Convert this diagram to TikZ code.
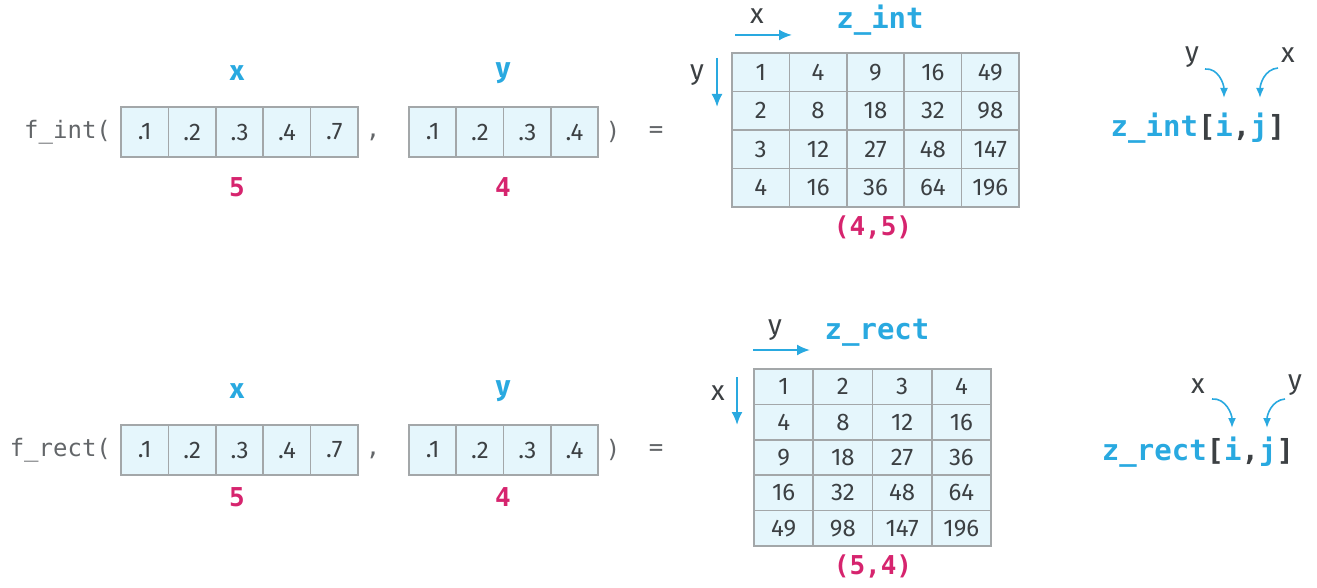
\documentclass[tikz,border=0pt]{standalone}
\usepackage{fontspec}
\setmainfont{Fira Sans}
\setmonofont{DejaVu Sans Mono}
\usetikzlibrary{arrows.meta}

\definecolor{zblue}{HTML}{29A9E0}
\definecolor{zred}{HTML}{D6246E}
\definecolor{zcell}{HTML}{E5F6FC}
\definecolor{zline}{HTML}{A3A7A9}
\definecolor{ztext}{HTML}{3C4043}

\tikzset{
  cell/.style={draw=zline,line width=0.8pt,fill=zcell,inner sep=0pt,
    text=ztext,font=\fontsize{12}{14}\selectfont},
  arrcell/.style={cell,minimum width=23.7pt,minimum height=25pt},
  intcell/.style={cell,minimum width=28.7pt,minimum height=19.25pt},
  rectcell/.style={cell,minimum width=29.6pt,minimum height=17.7pt},
  fcall/.style={text=ztext!80,font=\ttfamily\fontsize{12}{14}\selectfont},
  varname/.style={text=zblue,font=\bfseries\fontsize{14}{16}\selectfont},
  dimlabel/.style={text=zred,font=\ttfamily\bfseries\fontsize{13}{15}\selectfont},
  zname/.style={text=zblue,font=\ttfamily\bfseries\fontsize{14.5}{16}\selectfont},
  axislabel/.style={text=ztext,font=\fontsize{14}{16}\selectfont},
  axisarrow/.style={zblue,line width=1pt,-{Latex[length=6.5pt,width=5.5pt]}},
  bendarrow/.style={zblue,line width=0.8pt,-{Latex[length=5pt,width=4pt]}},
}

\begin{document}
\begin{tikzpicture}[x=0.5pt,y=-0.5pt]
  \useasboundingbox (0,0) rectangle (1317,588);

  % f_int call
  \node[fcall,anchor=east] (fint) at (118,132) {f\_int(};
  \foreach \v [count=\i] in {.1,.2,.3,.4,.7}
    \node[arrcell] (tx\i) at ({121+47.4*(\i-0.5)},132) {\v};
  \node[varname] (txname) at (237,73) {x};
  \node[dimlabel] (txlen) at (237,187) {5};
  \node[fcall] (tcomma) at (373,137) {,};
  \foreach \v [count=\i] in {.1,.2,.3,.4}
    \node[arrcell] (ty\i) at ({409+47.3*(\i-0.5)},132) {\v};
  \node[varname] (tyname) at (503,73) {y};
  \node[dimlabel] (tylen) at (503,187) {4};
  \node[fcall] (tclose) at (613,132) {)};
  \node[fcall] (teq) at (656,132) {=};

  % z_int grid
  \foreach \row [count=\r] in {{1,4,9,16,49},{2,8,18,32,98},{3,12,27,48,147},{4,16,36,64,196}}
    \foreach \v [count=\c] in \row
      \node[intcell] (zi-\r-\c) at ({732+57.4*(\c-0.5)},{53+38.5*(\r-0.5)}) {\v};
  \node[zname] (ziname) at (880,20) {z\_int};
  \node[dimlabel] (zishape) at (873,227) {(4,5)};
  \node[axislabel] (zixlab) at (757,16) {x};
  \node[axislabel] (ziylab) at (697,75) {y};
  \coordinate (zix0) at (735,35);
  \coordinate (zix1) at (792,35);
  \coordinate (ziy0) at (717,58);
  \coordinate (ziy1) at (717,107);
  \draw[axisarrow] (zix0) -- (zix1);
  \draw[axisarrow] (ziy0) -- (ziy1);

  % z_int indexing
  \node[zname] (ziidx) at (1198,128)
    {z\_int\textcolor{ztext}{[}i\textcolor{ztext}{,}j\textcolor{ztext}{]}};
  \node[axislabel] (ziidy) at (1192,57) {y};
  \node[axislabel] (ziidx) at (1288,55) {x};
  \coordinate (zii) at (1224,98);
  \coordinate (zij) at (1260,98);
  \draw[bendarrow] (1205,69) to[out=5,in=90] (zii);
  \draw[bendarrow] (1278,68) to[out=185,in=90] (zij);

  % f_rect call
  \node[fcall,anchor=east] (frect) at (118,450) {f\_rect(};
  \foreach \v [count=\i] in {.1,.2,.3,.4,.7}
    \node[arrcell] (bx\i) at ({121+47.4*(\i-0.5)},450) {\v};
  \node[varname] (bxname) at (237,391) {x};
  \node[dimlabel] (bxlen) at (237,497) {5};
  \node[fcall] (bcomma) at (373,455) {,};
  \foreach \v [count=\i] in {.1,.2,.3,.4}
    \node[arrcell] (by\i) at ({409+47.3*(\i-0.5)},450) {\v};
  \node[varname] (byname) at (503,391) {y};
  \node[dimlabel] (bylen) at (503,497) {4};
  \node[fcall] (bclose) at (613,450) {)};
  \node[fcall] (beq) at (656,450) {=};

  % z_rect grid
  \foreach \row [count=\r] in {{1,2,3,4},{4,8,12,16},{9,18,27,36},{16,32,48,64},{49,98,147,196}}
    \foreach \v [count=\c] in \row
      \node[rectcell] (zr-\r-\c) at ({754+59.25*(\c-0.5)},{369+35.4*(\r-0.5)}) {\v};
  \node[zname] (zrname) at (877,333) {z\_rect};
  \node[dimlabel] (zrshape) at (873,566) {(5,4)};
  \node[axislabel] (zrylab) at (775,330) {y};
  \node[axislabel] (zrxlab) at (718,393) {x};
  \coordinate (zry0) at (753,350);
  \coordinate (zry1) at (810,350);
  \coordinate (zrx0) at (737,377);
  \coordinate (zrx1) at (737,425);
  \draw[axisarrow] (zry0) -- (zry1);
  \draw[axisarrow] (zrx0) -- (zrx1);

  % z_rect indexing
  \node[zname] (zridx) at (1198,452)
    {z\_rect\textcolor{ztext}{[}i\textcolor{ztext}{,}j\textcolor{ztext}{]}};
  \node[axislabel] (zridxl) at (1198,386) {x};
  \node[axislabel] (zridyl) at (1295,385) {y};
  \coordinate (zri) at (1232,428);
  \coordinate (zrj) at (1267,428);
  \draw[bendarrow] (1212,399) to[out=5,in=90] (zri);
  \draw[bendarrow] (1285,399) to[out=185,in=90] (zrj);
\end{tikzpicture}
\end{document}
